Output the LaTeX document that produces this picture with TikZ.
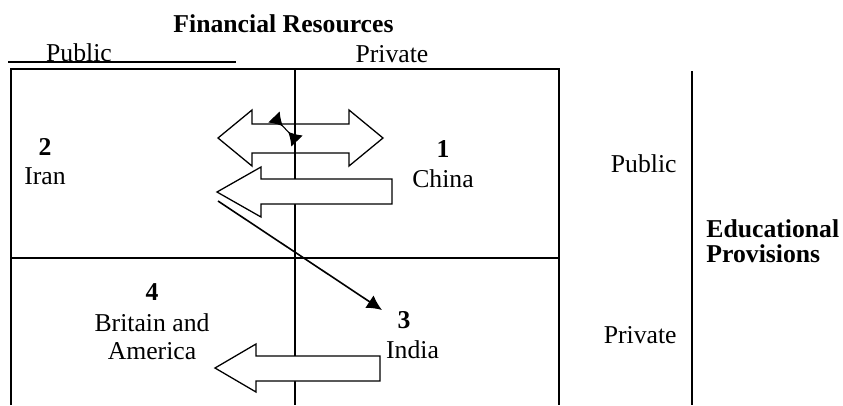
\documentclass[12pt,tikz,border=0pt]{standalone}
\usepackage{fontspec}
\setmainfont{Liberation Serif}
\usetikzlibrary{positioning,arrows.meta}

\begin{document}
\begin{tikzpicture}[x=0.467pt,y=-0.467pt,
    every node/.style={inner sep=0pt,on grid,node distance=14pt},
    boxline/.style={line width=0.9pt},
    blockarr/.style={draw,line width=0.6pt,line join=miter}]
  \useasboundingbox (0,0) rectangle (843,405);
  % the four cells
  \draw[boxline] (11,405) -- (11,69) -- (559,69) -- (559,405);
  \draw[boxline] (11,258) -- (559,258);
  \draw[boxline] (295,69) -- (295,405);
  \draw[boxline] (692,71) -- (692,405);
  \draw[boxline] (8,62) -- (236,62);
  % headings
  \node[anchor=base] (fin) at (283.5,32) {\textbf{Financial Resources}};
  \node[anchor=base] (finpub) at (79,61) {Public};
  \node[anchor=base] (finpriv) at (392,62) {Private};
  \node[anchor=base east] (edpub) at (677,172) {Public};
  \node[anchor=base east] (edpriv) at (677,343) {Private};
  \node[anchor=base west] (edu) at (706,237) {\textbf{Educational}};
  \node[anchor=base west] (prov) at (706,262) {\textbf{Provisions}};
  % countries
  \node[anchor=base] (one) at (443,157) {\textbf{1}};
  \node[below=of one] (china) {China};
  \node[anchor=base] (two) at (45,155) {\textbf{2}};
  \node[below=of two] (iran) {Iran};
  \node[anchor=base] (three) at (404,328) {\textbf{3}};
  \node[below=of three,xshift=4pt] (india) {India};
  \node[anchor=base] (four) at (152,300) {\textbf{4}};
  \node[below=14.5pt of four] (britain) {Britain and};
  \node[below=13.5pt of britain] (america) {America};
  % block arrows
  \draw[blockarr] (218,138) -- (252,110) -- (252,124) -- (349,124) -- (349,110)
    -- (383,138) -- (349,166) -- (349,153) -- (252,153) -- (252,166) -- cycle;
  \draw[blockarr,fill=white] (217,192) -- (261,167) -- (261,179) -- (392,179)
    -- (392,204) -- (261,204) -- (261,217) -- cycle;
  \draw[blockarr,fill=white] (215,368) -- (256,344) -- (256,356) -- (380,356)
    -- (380,381) -- (256,381) -- (256,392) -- cycle;
  % small and long arrows
  \coordinate (sa) at (274,117);
  \coordinate (sb) at (297,141);
  \draw[line width=0.5pt,{Latex[reversed,length=6pt,width=7.5pt]}-{Latex[reversed,length=6pt,width=7.5pt]}] (sa) -- (sb);
  \coordinate (ds) at (218,201);
  \coordinate (de) at (382,310);
  \draw[line width=0.75pt,-{Latex[length=7pt,width=7pt]}] (ds) -- (de);
\end{tikzpicture}
\end{document}
